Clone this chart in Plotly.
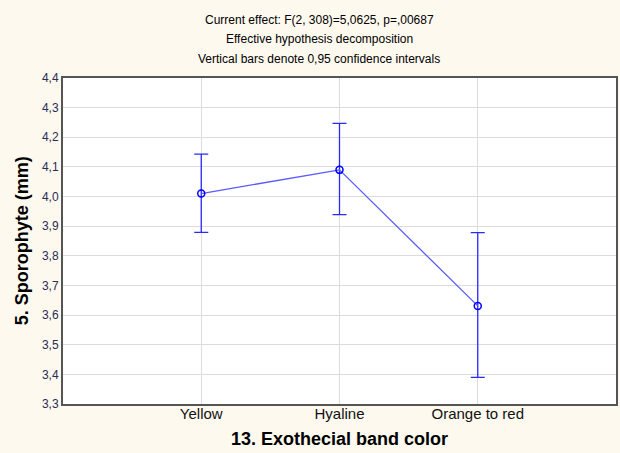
import plotly.graph_objects as go

categories = ["Yellow", "Hyaline", "Orange to red"]
means = [4.010, 4.090, 3.631]
upper = [4.143, 4.247, 3.878]
lower = [3.879, 3.939, 3.390]
title_lines = [
    "Current effect: F(2, 308)=5,0625, p=,00687",
    "Effective hypothesis decomposition",
    "Vertical bars denote 0,95 confidence intervals",
]
y_ticks = [3.3, 3.4, 3.5, 3.6, 3.7, 3.8, 3.9, 4.0, 4.1, 4.2, 4.3, 4.4]

err_plus = [u - m for u, m in zip(upper, means)]
err_minus = [m - l for m, l in zip(means, lower)]
xpos = list(range(len(categories)))

W, H = 620, 453
ML, MR, MT, MB = 63, 2, 78, 49
PW, PH = W - ML - MR, H - MT - MB

fig = go.Figure()
fig.add_trace(go.Scatter(
    x=xpos, y=means, mode="lines+markers",
    line=dict(color="#5a5aff", width=1.3),
    marker=dict(symbol="circle-open", size=7, color="#0000ff", line=dict(width=1.5)),
    error_y=dict(type="data", symmetric=False, array=err_plus, arrayminus=err_minus,
                 color="#2a2aff", thickness=1.3, width=7),
    showlegend=False,
))

ann = []
for i, line in enumerate(title_lines):
    ypix = 20 + 19.5 * i
    ann.append(dict(text=line, x=(320 - ML) / PW, y=(H - MB - ypix) / PH,
                    xref="paper", yref="paper", showarrow=False,
                    xanchor="center", yanchor="middle", font=dict(size=12)))
ann.append(dict(text="<b>13. Exothecial band color</b>", x=0.5, xref="paper",
                y=-(439 - (H - MB)) / PH, yref="paper", showarrow=False,
                xanchor="center", yanchor="middle", font=dict(size=18)))
ann.append(dict(text="<b>5. Sporophyte (mm)</b>", x=-(ML - 22) / PW, xref="paper",
                y=0.5, yref="paper", showarrow=False, textangle=-90,
                xanchor="center", yanchor="middle", font=dict(size=18)))

fig.update_layout(
    width=W, height=H,
    margin=dict(l=ML, r=MR, t=MT, b=MB),
    paper_bgcolor="#fdf9ef",
    plot_bgcolor="#ffffff",
    separators=", ",
    font=dict(family="Liberation Sans, Arial, sans-serif", color="#000000"),
    xaxis=dict(
        range=[-1, 3], tickvals=xpos, ticktext=categories,
        showgrid=True, gridcolor="#dcdcdc", gridwidth=1,
        ticks="", tickfont=dict(size=15, color="#111111"),
        ticklabelstandoff=-5,
        showline=True, linecolor="#555555", linewidth=2, mirror=True,
        zeroline=False,
    ),
    yaxis=dict(
        range=[3.3, 4.4], tickvals=y_ticks, tickformat=".1f",
        showgrid=True, gridcolor="#dcdcdc", gridwidth=1,
        ticks="", tickfont=dict(size=12, color="#2b2b55"),
        showline=True, linecolor="#555555", linewidth=2, mirror=True,
        zeroline=False,
    ),
    annotations=ann,
)

fig.write_html("out.html", config={"displayModeBar": False},
               post_script="document.body.style.margin='0';document.body.style.padding='0';document.body.style.overflow='hidden';")
